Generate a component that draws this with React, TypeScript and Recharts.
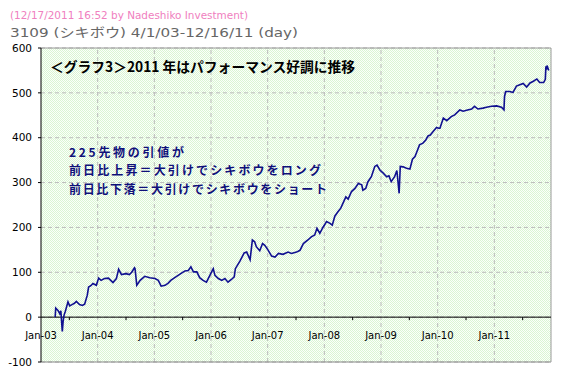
import { LineChart, Line, XAxis, YAxis, CartesianGrid, ReferenceLine } from 'recharts'

// decimal year of each reading and the value
const dates = [
  2003.25, 2003.26, 2003.3, 2003.33, 2003.35, 2003.376, 2003.39, 2003.406, 2003.43, 2003.476,
  2003.506, 2003.547, 2003.59, 2003.623, 2003.68, 2003.73, 2003.77, 2003.817, 2003.84, 2003.88,
  2003.917, 2003.976, 2004.017, 2004.06, 2004.12, 2004.19, 2004.27, 2004.33, 2004.37, 2004.42,
  2004.5, 2004.56, 2004.6, 2004.65, 2004.66, 2004.69, 2004.75, 2004.83, 2004.92, 2005.01,
  2005.07, 2005.12, 2005.19, 2005.245, 2005.29, 2005.36, 2005.42, 2005.48, 2005.54, 2005.6,
  2005.645, 2005.69, 2005.75, 2005.8, 2005.86, 2005.92, 2005.98, 2006.04, 2006.07, 2006.13,
  2006.19, 2006.245, 2006.3, 2006.36, 2006.41, 2006.43, 2006.51, 2006.585, 2006.63, 2006.69,
  2006.73, 2006.77, 2006.8, 2006.86, 2006.91, 2006.95, 2007.01, 2007.07, 2007.13, 2007.19,
  2007.27, 2007.36, 2007.42, 2007.51, 2007.57, 2007.63, 2007.71, 2007.77, 2007.83, 2007.87,
  2007.92, 2007.98, 2008.04, 2008.1, 2008.14, 2008.185, 2008.24, 2008.29, 2008.33, 2008.38,
  2008.42, 2008.48, 2008.54, 2008.6, 2008.66, 2008.68, 2008.73, 2008.77, 2008.83, 2008.89,
  2008.93, 2008.98, 2009.04, 2009.1, 2009.14, 2009.18, 2009.24, 2009.28, 2009.32, 2009.34,
  2009.39, 2009.45, 2009.51, 2009.555, 2009.6, 2009.64, 2009.68, 2009.74, 2009.79, 2009.83,
  2009.87, 2009.92, 2009.98, 2010.02, 2010.04, 2010.1, 2010.16, 2010.24, 2010.3, 2010.39,
  2010.45, 2010.51, 2010.6, 2010.65, 2010.71, 2010.8, 2010.86, 2010.95, 2011.04, 2011.125,
  2011.17, 2011.18, 2011.2, 2011.27, 2011.33, 2011.39, 2011.45, 2011.51, 2011.57, 2011.63,
  2011.69, 2011.75, 2011.8, 2011.87, 2011.9, 2011.91, 2011.92, 2011.93, 2011.96,
]
const values = [
  0, 20, 15, 8, 14, -32, -10, 4, 13, 34,
  25, 28, 31, 35, 28, 26, 29, 49, 67, 70,
  75, 71, 87, 82, 86, 87, 77, 86, 107, 95,
  97, 95, 100, 110, 108, 71, 82, 91, 88, 86,
  82, 69, 71, 76, 82, 88, 93, 98, 103, 104,
  112, 101, 101, 88, 82, 78, 93, 108, 93, 86,
  82, 86, 78, 84, 90, 108, 125, 143, 145, 128,
  172, 168, 157, 148, 164, 160, 149, 136, 134, 142,
  140, 145, 142, 145, 149, 164, 172, 179, 183, 198,
  187, 201, 213, 209, 205, 225, 235, 243, 254, 268,
  263, 280, 287, 298, 295, 283, 287, 302, 313, 336,
  339, 328, 321, 313, 315, 302, 313, 327, 276, 336,
  335, 332, 330, 352, 358, 371, 384, 388, 395, 404,
  406, 414, 423, 421, 421, 444, 438, 447, 451, 462,
  459, 461, 464, 470, 464, 466, 468, 470, 471, 468,
  462, 492, 503, 503, 501, 515, 518, 521, 513, 522,
  526, 531, 523, 523, 530, 559, 552, 561, 550,
]

const yTicks = [-100, 0, 100, 200, 300, 400, 500, 600]
const xTicks = [
  2003, 2003.5, 2004, 2004.5, 2005, 2005.5, 2006, 2006.5, 2007, 2007.5,
  2008, 2008.5, 2009, 2009.5, 2010, 2010.5, 2011, 2011.5,
]
const xLabels = ['Jan-03', 'Jan-04', 'Jan-05', 'Jan-06', 'Jan-07', 'Jan-08', 'Jan-09', 'Jan-10', 'Jan-11']
const gridYears = [2004, 2005, 2006, 2007, 2008, 2009, 2010, 2011]

const header1 = '(12/17/2011 16:52 by Nadeshiko Investment)'
const header2 = '3109 (シキボウ)  4/1/03-12/16/11 (day)'
const title = '＜グラフ3＞2011 年はパフォーマンス好調に推移'
const notes = ['225先物の引値が', '前日比上昇＝大引けでシキボウをロング', '前日比下落＝大引けでシキボウをショート']

const data = dates.map((t, i) => ({ t, v: values[i] }))

const W = 578
const H = 376
const MARGIN = { top: 48, right: 27, bottom: 0, left: 0 }
const X_AXIS_H = 14
const Y_MIN = -100
const Y_MAX = 600
const PLOT_H = H - MARGIN.top - MARGIN.bottom - X_AXIS_H
const CJK = '"Noto Sans CJK JP", "Noto Sans", sans-serif'
const NOTE_Y = [151, 169, 188]
const NOTE_W = [115, 252, 258]

function XTick(props: any) {
  const { x, y, payload } = props
  // x axis sits on the zero line, not at the bottom of the plot
  const zeroY = y - (PLOT_H * (0 - Y_MIN)) / (Y_MAX - Y_MIN)
  const v = payload.value
  if (Number.isInteger(v)) {
    return (
      <text x={x} y={zeroY + 22} textAnchor="middle" fontSize={10} fontFamily="DejaVu Sans" fill="#000">
        {xLabels[v - 2003]}
      </text>
    )
  }
  return <line x1={x} x2={x} y1={zeroY} y2={zeroY + 3} stroke="#000" />
}

export default function App() {
  return (
    <div style={{ position: 'absolute', left: 0, top: 0, width: W, height: H, background: '#fff' }}>
      <LineChart width={W} height={H} data={data} margin={MARGIN}>
        <defs>
          <pattern id="dots" width="2" height="2" patternUnits="userSpaceOnUse">
            <rect width="2" height="2" fill="#fbfffa" />
            <rect width="1" height="1" fill="#daf5d3" />
            <rect x="1" y="1" width="1" height="1" fill="#daf5d3" />
          </pattern>
        </defs>
        <CartesianGrid vertical={false} stroke="#bbb" strokeDasharray="4 3" fill="url(#dots)" />
        <XAxis
          dataKey="t"
          type="number"
          domain={[2003, 2012]}
          ticks={xTicks}
          interval={0}
          height={X_AXIS_H}
          axisLine={false}
          tickLine={false}
          tickSize={0}
          tickMargin={0}
          tick={<XTick />}
        />
        <YAxis
          domain={[Y_MIN, Y_MAX]}
          ticks={yTicks}
          interval={0}
          width={41}
          tickSize={3}
          tickMargin={6}
          axisLine={{ stroke: '#000' }}
          tickLine={{ stroke: '#000' }}
          tick={{ fontSize: 10.5, fill: '#000', fontFamily: 'DejaVu Sans' }}
        />
        {gridYears.map((yr) => (
          <ReferenceLine key={yr} x={yr} stroke="#bbb" strokeDasharray="4 3" />
        ))}
        <ReferenceLine y={600} stroke="#999" />
        <ReferenceLine y={-100} stroke="#888" />
        <ReferenceLine x={2012} stroke="#999" />
        <ReferenceLine y={0} stroke="#000" />
        <Line type="linear" dataKey="v" stroke="#101090" strokeWidth={1.6} dot={false} isAnimationActive={false} />
      </LineChart>
      <svg width={W} height={H} style={{ position: 'absolute', left: 0, top: 0, pointerEvents: 'none' }}>
        <text x={10} y={15} dominantBaseline="central" fontSize={11} fontFamily={'"DejaVu Sans", ' + CJK} fill="#f080c0" textLength={238} lengthAdjust="spacingAndGlyphs">
          {header1}
        </text>
        <text x={10} y={32} dominantBaseline="central" fontSize={13} fontFamily={'"DejaVu Sans", ' + CJK} fill="#666" textLength={288} lengthAdjust="spacingAndGlyphs">
          {header2}
        </text>
        <text x={50} y={66} dominantBaseline="central" fontSize={14} fontWeight="bold" fontFamily={CJK} fill="#000" textLength={305} lengthAdjust="spacingAndGlyphs">
          {title}
        </text>
        {notes.map((s, i) => (
          <text key={i} x={69} y={NOTE_Y[i]} dominantBaseline="central" fontSize={12} fontWeight="bold" fontFamily={CJK} fill="#10107a" textLength={NOTE_W[i]} lengthAdjust="spacing">
            {s}
          </text>
        ))}
      </svg>
    </div>
  )
}
